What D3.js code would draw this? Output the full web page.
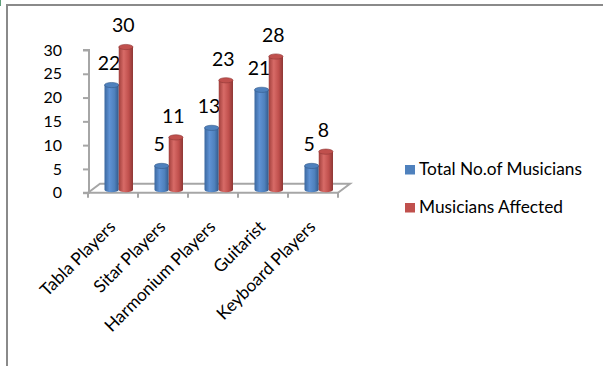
<!DOCTYPE html>
<html>
<head>
<meta charset="utf-8">
<script src="https://cdn.jsdelivr.net/npm/d3@7"></script>
<style>
  html, body { margin: 0; padding: 0; background: #fff; }
  svg { display: block; font-family: Lato, "Open Sans", sans-serif; }
</style>
</head>
<body>
<svg id="chart" width="603" height="366"></svg>
<script>
const categories = ["Tabla Players", "Sitar Players", "Harmonium Players", "Guitarist", "Keyboard Players"];
const seriesNames = ["Total No.of Musicians", "Musicians Affected"];
const totalMusicians = [22, 5, 13, 21, 5];
const musiciansAffected = [30, 11, 23, 28, 8];
const yTicks = [0, 5, 10, 15, 20, 25, 30];
const seriesColors = ["#4F81BD", "#C0504D"];

const seriesValues = [totalMusicians, musiciansAffected];

const svg = d3.select("#chart");

// frame lines (top and left)
svg.append("line").attr("x1", 7).attr("x2", 603).attr("y1", 5).attr("y2", 5)
  .attr("stroke", "#8a8a8a").attr("stroke-width", 2);
svg.append("line").attr("x1", 7).attr("x2", 7).attr("y1", 4).attr("y2", 366)
  .attr("stroke", "#8a8a8a").attr("stroke-width", 2);
svg.append("line").attr("x1", 0.5).attr("x2", 0.5).attr("y1", 0).attr("y2", 6)
  .attr("stroke", "#5f9f7a").attr("stroke-width", 1);

const plotLeft = 88, plotRight = 338, plotBottom = 192.7, plotTop = 50;
const depthX = 12, depthY = -9;

const x0 = d3.scaleBand().domain(categories).range([plotLeft, plotRight]).padding(0);
const x1 = d3.scaleBand().domain(seriesNames).range([16.5, 45]).padding(0);
const y = d3.scaleLinear().domain([0, 30]).range([plotBottom, plotTop]);

// gradients
const defs = svg.append("defs");
const shades = [
  ["#3a679f", "#5f92d4", "#4f81bd", "#33598a"],
  ["#a13f3c", "#d86b67", "#c0504d", "#8e3735"]
];
shades.forEach((s, i) => {
  const g = defs.append("linearGradient").attr("id", "grad" + i)
    .attr("x1", "0%").attr("x2", "100%").attr("y1", "0%").attr("y2", "0%");
  g.append("stop").attr("offset", "0%").attr("stop-color", s[0]);
  g.append("stop").attr("offset", "35%").attr("stop-color", s[1]);
  g.append("stop").attr("offset", "70%").attr("stop-color", s[2]);
  g.append("stop").attr("offset", "100%").attr("stop-color", s[3]);
});

// floor
const floor = svg.append("g").attr("fill", "none").attr("stroke", "#a6a6a6").attr("stroke-width", 2);
floor.append("path").attr("d",
  `M${plotLeft},${plotBottom} L${plotLeft + depthX},${plotBottom + depthY} L${plotRight + depthX},${plotBottom + depthY} L${plotRight},${plotBottom}`);

// y axis
const yAxis = d3.axisLeft(y).tickValues(yTicks).tickSize(6).tickPadding(21);
const yg = svg.append("g").attr("transform", `translate(${plotLeft + 1},0)`).call(yAxis);
yg.select(".domain").attr("stroke", "#a6a6a6").attr("stroke-width", 2).attr("d", `M-6,${plotTop}H0V${plotBottom}H-6`);
yg.selectAll(".tick line").attr("stroke", "#a6a6a6").attr("stroke-width", 2);
yg.selectAll(".tick text").attr("font-size", 16).attr("fill", "#000").attr("font-family", "Lato, sans-serif");

// x axis front line + ticks
svg.append("line").attr("x1", plotLeft).attr("x2", plotRight).attr("y1", plotBottom).attr("y2", plotBottom)
  .attr("stroke", "#a6a6a6").attr("stroke-width", 2);
const boundaries = categories.map(c => x0(c)).concat([plotRight]);
svg.append("g").selectAll("line").data(boundaries).join("line")
  .attr("x1", d => d).attr("x2", d => d).attr("y1", plotBottom).attr("y2", plotBottom + 5)
  .attr("stroke", "#a6a6a6").attr("stroke-width", 2);

// category labels
svg.append("g").selectAll("text").data(categories).join("text")
  .attr("transform", d => `translate(${x0(d) + x0.bandwidth() / 2 + 3.5},228) rotate(-45)`)
  .attr("text-anchor", "end").attr("font-size", 17.3).attr("fill", "#000")
  .text(d => d);

// bars (cylinders)
const ry = 2.6;
const barOffsetY = -3;
const bars = [];
seriesNames.forEach((s, si) => {
  categories.forEach((c, ci) => {
    bars.push({ s, si, c, v: seriesValues[si][ci] });
  });
});
const bg = svg.append("g");
bars.forEach(b => {
  const xl = x0(b.c) + x1(b.s);
  const w = x1.bandwidth();
  const yt = y(b.v) + barOffsetY;
  const yb = y(0) + barOffsetY;
  bg.append("path")
    .attr("d", `M${xl},${yt} L${xl},${yb} A${w / 2},${ry} 0 0 0 ${xl + w},${yb} L${xl + w},${yt} Z`)
    .attr("fill", `url(#grad${b.si})`);
  bg.append("ellipse").attr("cx", xl + w / 2).attr("cy", yt).attr("rx", w / 2).attr("ry", ry)
    .attr("fill", shades[b.si][2]).attr("stroke", shades[b.si][3]).attr("stroke-width", 0.6);
  bg.append("text").attr("x", xl + w / 2 - 2.5).attr("y", yt - ry - 12)
    .attr("text-anchor", "middle").attr("font-size", 19.5).attr("fill", "#000")
    .text(b.v);
});

// legend
const legend = svg.append("g");
seriesNames.forEach((s, i) => {
  const ly = 165 + i * 38;
  legend.append("rect").attr("x", 405).attr("y", ly).attr("width", 10).attr("height", 9.5)
    .attr("fill", seriesColors[i]);
  legend.append("text").attr("x", 419).attr("y", ly + 10).attr("font-size", 17.3).attr("fill", "#000")
    .text(s);
});
</script>
</body>
</html>
